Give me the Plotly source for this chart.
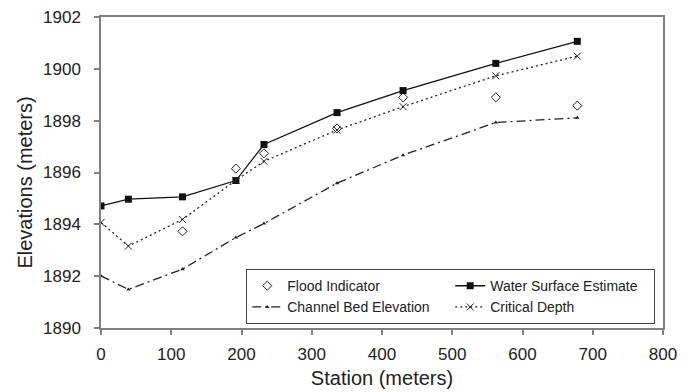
import plotly.graph_objects as go

stations = [0, 39, 116, 192, 232, 336, 430, 562, 678]
water_surface = [1894.71, 1894.97, 1895.06, 1895.69, 1897.08, 1898.31, 1899.16, 1900.21, 1901.06]
critical_depth = [1894.07, 1893.16, 1894.19, 1895.70, 1896.43, 1897.64, 1898.54, 1899.73, 1900.49]
channel_bed = [1892.01, 1891.49, 1892.27, 1893.49, 1894.03, 1895.59, 1896.67, 1897.93, 1898.11]
flood_stations = [116, 192, 232, 336, 430, 562, 678]
flood_indicator = [1893.73, 1896.15, 1896.74, 1897.70, 1898.90, 1898.90, 1898.58]

x_ticks = [0, 100, 200, 300, 400, 500, 600, 700, 800]
y_ticks = [1890, 1892, 1894, 1896, 1898, 1900, 1902]

fig = go.Figure()
fig.add_trace(go.Scatter(
    x=flood_stations, y=flood_indicator, name="Flood Indicator", mode="markers",
    marker=dict(symbol="diamond-open", size=7, color="#222", line=dict(width=1))))
fig.add_trace(go.Scatter(
    x=stations, y=water_surface, name="Water Surface Estimate", mode="lines+markers",
    line=dict(color="#111", width=1.3),
    marker=dict(symbol="square", size=7, color="#111")))
fig.add_trace(go.Scatter(
    x=stations, y=channel_bed, name="Channel Bed Elevation", mode="lines+markers",
    line=dict(color="#222", width=1.3, dash="9px,4px,2px,4px"),
    marker=dict(symbol="triangle-up", size=4, color="#222")))
fig.add_trace(go.Scatter(
    x=stations, y=critical_depth, name="Critical Depth", mode="lines+markers",
    line=dict(color="#222", width=1.3, dash="2px,3px"),
    marker=dict(symbol="x-thin-open", size=7, color="#222", line=dict(width=1, color="#222"))))

axis_common = dict(
    showline=True, linecolor="#808080", linewidth=1.5, mirror=True,
    ticks="outside", ticklen=5, tickcolor="#808080", tickwidth=1.5,
    showgrid=False, zeroline=False, automargin=False,
    ticklabeloverflow="allow",
    tickfont=dict(size=17, color="#222"),
)

# The page body has an 8px default margin, so the figure is shifted by 8px.
fig.update_layout(
    width=684, height=384,
    margin=dict(l=93, r=29, t=9, b=64),
    paper_bgcolor="white", plot_bgcolor="white",
    font=dict(family="Liberation Sans, Arial, sans-serif", color="#222"),
    xaxis=dict(range=[0, 800], tickvals=x_ticks, ticklabelstandoff=5,
               title=dict(text="Station (meters)", font=dict(size=20), standoff=8), **axis_common),
    yaxis=dict(range=[1890, 1902], tickvals=y_ticks, ticklabelstandoff=10, **axis_common),
    legend=dict(
        orientation="h", x=0.9858, xanchor="right", y=0.013, yanchor="bottom",
        bgcolor="white", bordercolor="#444", borderwidth=1.2,
        font=dict(size=14, color="#222"), entrywidth=158, tracegroupgap=0,
        itemwidth=30,
    ),
    annotations=[dict(
        text="Elevations (meters)", textangle=-90, xref="paper", yref="paper",
        x=-0.135, y=0.468, xanchor="center", yanchor="middle", showarrow=False,
        font=dict(size=20, color="#222"),
    )],
    showlegend=True,
)

fig.write_html("out.html")
